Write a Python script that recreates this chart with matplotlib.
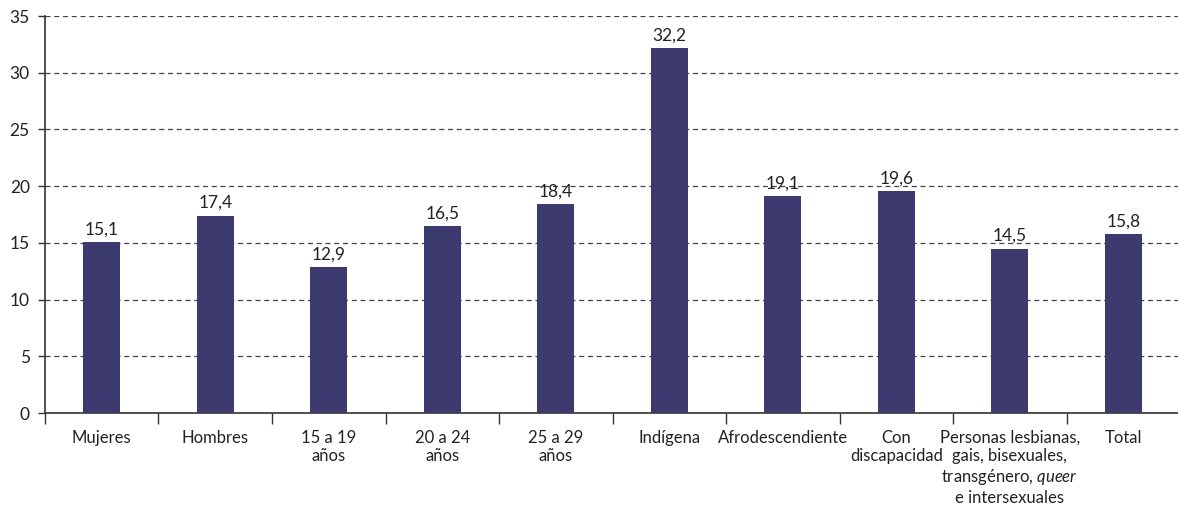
import matplotlib
matplotlib.use("Agg")
import matplotlib.pyplot as plt
import numpy as np

categorias = ["Mujeres", "Hombres", "15 a 19\naños", "20 a 24\naños", "25 a 29\naños",
              "Indígena", "Afrodescendiente", "Con\ndiscapacidad",
              "Personas lesbianas,\ngais, bisexuales,\ntransgénero, $\\mathit{queer}$\ne intersexuales",
              "Total"]
valores = [15.1, 17.4, 12.9, 16.5, 18.4, 32.2, 19.1, 19.6, 14.5, 15.8]
yticks = [0, 5, 10, 15, 20, 25, 30, 35]

plt.rcParams['font.family'] = ['Lato', 'DejaVu Sans']
plt.rcParams['mathtext.fontset'] = 'custom'
plt.rcParams['mathtext.rm'] = 'Lato'
plt.rcParams['mathtext.it'] = 'Lato:italic'

color_barra = "#3d3a6f"
gris = "#333333"

fig = plt.figure(figsize=(11.78, 5.08), dpi=100)
ax = fig.add_axes([0.0382, 0.187, 0.9635, 0.7815])

x = np.arange(len(categorias))
ax.bar(x, valores, width=0.325, color=color_barra, zorder=3)

for xi, v in zip(x, valores):
    ax.text(xi, v + 0.4, ("%.1f" % v).replace(".", ","), ha="center", va="bottom",
            fontsize=12.5, color="#222222")

ax.set_xlim(-0.5, len(categorias) - 0.5)
ax.set_ylim(0, 35)
ax.set_yticks(yticks)
ax.set_yticklabels([str(t) for t in yticks], fontsize=12.5, color="#222222")
ax.yaxis.grid(True, linestyle=(0, (4, 3)), color="#444444", linewidth=0.9, zorder=0)
ax.set_axisbelow(True)

# ticks at the category boundaries, labels centred
ax.set_xticks(np.arange(len(categorias)) - 0.5)
ax.set_xticklabels([])
ax.set_xticks(x, minor=True)
ax.set_xticklabels(categorias, minor=True, fontsize=12, color="#222222", linespacing=1.2)
ax.tick_params(axis="x", which="minor", length=0, pad=12)
ax.tick_params(axis="x", which="major", length=8, width=1, color=gris, direction="out")
ax.tick_params(axis="y", length=5, width=1, color=gris, pad=6)

for s in ["top", "right"]:
    ax.spines[s].set_visible(False)
for s in ["left", "bottom"]:
    ax.spines[s].set_color(gris)
    ax.spines[s].set_linewidth(1.2)

fig.savefig("out.png", dpi=100)
